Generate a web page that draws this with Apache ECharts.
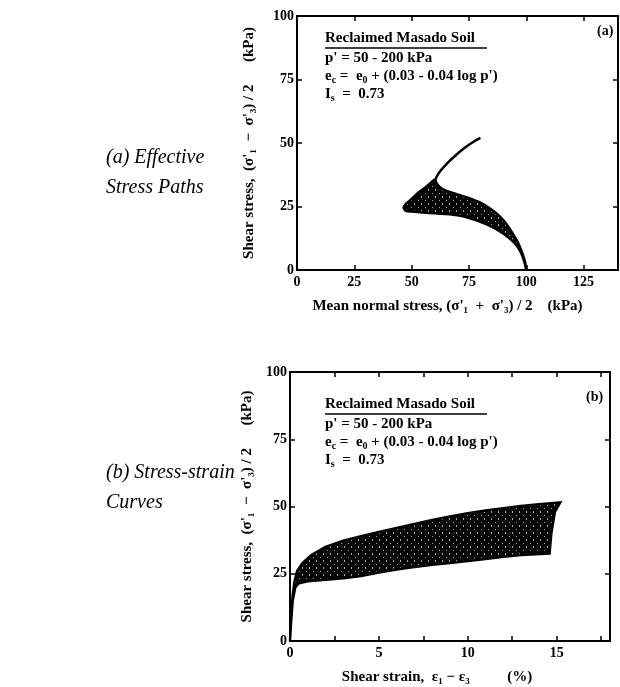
<!DOCTYPE html>
<html>
<head>
<meta charset="utf-8">
<title>Masado soil</title>
<script src="https://cdn.jsdelivr.net/npm/echarts@6/dist/echarts.min.js"></script>
<style>
  html, body { margin: 0; padding: 0; background: #fff; }
  #main { width: 620px; height: 687px; }
</style>
</head>
<body>
<div id="main"></div>
<script>
// (a) effective stress paths: shaded band outline (p, q)
var pathBandX = [100, 99.5, 98.5, 97, 95, 92, 88, 84, 80, 75, 70, 65, 60, 55, 50, 47.5, 46.5, 47.5, 50, 53, 56, 58.5, 60, 61, 62.5, 65, 68, 72, 76, 80, 84, 88, 91, 94, 96.5, 98.5, 99.5, 100];
var pathBandY = [0, 2, 5, 8, 10.5, 13, 15.5, 17.5, 19, 20.5, 21.5, 22, 22.3, 22.6, 23, 23.3, 24.5, 26, 28, 30.5, 32.5, 34.5, 35.5, 34, 32.5, 31.2, 30.3, 29.2, 28, 26.5, 24.3, 21.5, 18.5, 14.5, 10.5, 6, 3, 0];
// (a) single path leaving the band
var pathLineX = [80, 77, 73, 69, 65.5, 62.5, 60.8, 60.2, 60.5, 62];
var pathLineY = [52, 50.5, 48, 45, 42, 39, 36.5, 34.5, 33, 32];

// (b) stress-strain band outline (strain %, q)
var curveBandX = [0, 0.08, 0.15, 0.25, 0.4, 0.7, 1.2, 2, 3, 4, 5, 6, 7, 8, 9, 10, 11, 12, 13, 14, 15.2, 14.9, 14.7, 14.6, 13, 12, 11, 10, 9, 8, 7, 6, 5, 4, 3, 2, 1, 0.5, 0.3, 0.15, 0.05, 0];
var curveBandY = [0, 10, 17, 22, 26, 29, 32, 35, 37.3, 39, 40.5, 42, 43.5, 45, 46.3, 47.5, 48.5, 49.4, 50.2, 50.8, 51.5, 48, 40, 32.5, 32, 31.3, 30.5, 29.7, 29, 28.3, 27.5, 26.6, 25.5, 24.2, 23.3, 22.8, 22.2, 21.5, 20, 15, 6, 0];

var serif = '"Liberation Serif", "DejaVu Serif", serif';

// speckled fill like the scanned hatch
function speckle() {
    var c = document.createElement('canvas');
    c.width = 7; c.height = 7;
    var g = c.getContext('2d');
    g.fillStyle = '#050505';
    g.fillRect(0, 0, 7, 7);
    g.fillStyle = '#a8a8a8';
    g.fillRect(1, 0, 1, 2);
    g.fillRect(5, 4, 1, 1);
    return c;
}
var fillPattern = { image: speckle(), repeat: 'repeat' };

function zip(xs, ys) {
    return xs.map(function (x, i) { return [x, ys[i]]; });
}

function bandSeries(xi, xs, ys, smooth) {
    return {
        type: 'custom',
        xAxisIndex: xi, yAxisIndex: xi,
        data: zip(xs, ys),
        renderItem: function (params, api) {
            if (params.dataIndex !== 0) return null;
            var pts = xs.map(function (x, i) { return api.coord([x, ys[i]]); });
            return {
                type: 'polygon',
                shape: { points: pts, smooth: smooth },
                style: { fill: fillPattern, stroke: '#000', lineWidth: 2.5 }
            };
        },
        z: 3
    };
}

var tickLabel = { fontFamily: serif, fontSize: 14, fontWeight: 'bold', color: '#000' };
var nameStyle = { fontFamily: serif, fontSize: 15, fontWeight: 'bold', color: '#000' };

function mainX(grid, max, interval, name, pad) {
    return {
        type: 'value', gridIndex: grid, min: 0, max: max, interval: interval, position: 'bottom',
        axisLine: { onZero: false, lineStyle: { color: '#000', width: 2 } },
        axisTick: { inside: true, length: 5, lineStyle: { color: '#000', width: 1.5 } },
        splitLine: { show: false },
        axisLabel: Object.assign({ margin: 5, showMaxLabel: false,
            formatter: function (v) { return v % (interval * (grid === 1 ? 2 : 1)) === 0 ? String(v) : ''; } }, tickLabel),
        name: name, nameLocation: 'middle', nameGap: 29,
        nameTextStyle: Object.assign({ padding: pad }, nameStyle)
    };
}
function sideX(grid, max, interval) {
    return {
        type: 'value', gridIndex: grid, min: 0, max: max, interval: interval, position: 'top',
        axisLine: { onZero: false, lineStyle: { color: '#000', width: 2 } },
        axisTick: { inside: true, length: 5, lineStyle: { color: '#000', width: 1.5 } },
        axisLabel: { show: false }, splitLine: { show: false }
    };
}
function mainY(grid, name, gap) {
    return {
        type: 'value', gridIndex: grid, min: 0, max: 100, interval: 25, position: 'left',
        axisLine: { onZero: false, lineStyle: { color: '#000', width: 2 } },
        axisTick: { inside: true, length: 5, lineStyle: { color: '#000', width: 1.5 } },
        splitLine: { show: false },
        axisLabel: Object.assign({ margin: 3 }, tickLabel),
        name: name, nameLocation: 'middle', nameGap: gap,
        nameTextStyle: nameStyle
    };
}
function sideY(grid) {
    return {
        type: 'value', gridIndex: grid, min: 0, max: 100, interval: 25, position: 'right',
        axisLine: { onZero: false, lineStyle: { color: '#000', width: 2 } },
        axisTick: { inside: true, length: 5, lineStyle: { color: '#000', width: 1.5 } },
        axisLabel: { show: false }, splitLine: { show: false }
    };
}

var qName = "Shear stress,  (σ'₁  −  σ'₃) / 2      (kPa)";

var noteRich = {
    b: { fontFamily: serif, fontSize: 15, fontWeight: 'bold', color: '#000', lineHeight: 18 },
    s: { fontFamily: serif, fontSize: 10, fontWeight: 'bold', color: '#000', lineHeight: 10, verticalAlign: 'bottom' }
};
function notes(x, y, tag, tagX) {
    return [
        { type: 'text', left: x, top: y, style: { text: 'Reclaimed Masado Soil', font: 'bold 15px ' + serif, fill: '#000' } },
        { type: 'line', shape: { x1: x, y1: y + 17, x2: x + 162, y2: y + 17 }, style: { stroke: '#000', lineWidth: 1.3 } },
        { type: 'text', left: x, top: y + 20, style: { text: "{b|p' = 50 - 200 kPa}\n{b|e}{s|c}{b| =  e}{s|0}{b| + (0.03 - 0.04 log p')}\n{b|I}{s|s}{b|  =  0.73}", rich: noteRich } },
        { type: 'text', left: tagX, top: y - 7, style: { text: tag, font: 'bold 14px ' + serif, fill: '#000' } }
    ];
}

var chart = echarts.init(document.getElementById('main'));
chart.setOption({
    backgroundColor: '#fff',
    animation: false,
    grid: [
        { left: 297, top: 16, width: 321, height: 254, show: false },
        { left: 290, top: 372, width: 320, height: 269, show: false }
    ],
    xAxis: [
        mainX(0, 140, 25, "Mean normal stress, (σ'₁  +  σ'₃) / 2    (kPa)", [0, 20, 0, 0]),
        sideX(0, 140, 25),
        mainX(1, 18, 2.5, 'Shear strain,  ε₁ − ε₃          (%)', [0, 26, 0, 0]),
        sideX(1, 18, 2.5)
    ],
    yAxis: [
        mainY(0, qName, 40),
        sideY(0),
        mainY(1, qName, 35),
        sideY(1)
    ],
    series: [
        bandSeries(0, pathBandX, pathBandY, 0.2),
        {
            type: 'line', xAxisIndex: 0, yAxisIndex: 0,
            data: zip(pathLineX, pathLineY),
            showSymbol: false, smooth: 0.4,
            lineStyle: { color: '#000', width: 2.5 },
            z: 4
        },
        bandSeries(2, curveBandX, curveBandY, 0)
    ],
    graphic: [].concat(
        notes(325, 31, '(a)', 597),
        notes(325, 397, '(b)', 586),
        [
            { type: 'text', left: 106, top: 143, style: { text: '(a) Effective\nStress Paths', font: 'italic 20px ' + serif, fill: '#000', lineHeight: 30 } },
            { type: 'text', left: 106, top: 458, style: { text: '(b) Stress-strain\nCurves', font: 'italic 20px ' + serif, fill: '#000', lineHeight: 30 } }
        ]
    )
});
</script>
</body>
</html>
